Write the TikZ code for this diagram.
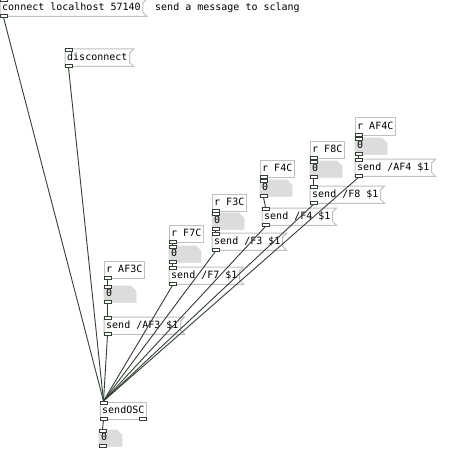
\documentclass[tikz,border=0pt]{standalone}
\usepackage{fontspec}
\newfontfamily\pdfont{DejaVu Sans Mono}
\pgfdeclarelayer{bg}
\pgfsetlayers{bg,main}
\definecolor{pdline}{RGB}{52,64,52}
\definecolor{pdborder}{RGB}{192,192,192}
\definecolor{pdnum}{RGB}{220,220,220}
\tikzset{
  pdbox/.style={font=\pdfont\fontsize{10pt}{12pt}\selectfont, anchor=north west,
    inner xsep=2pt, inner ysep=0pt, minimum height=17pt, text height=7.5pt, text depth=2.5pt},
  pdnumbox/.style={pdbox, minimum height=16pt},
  pdoutline/.style={draw=pdborder, line width=1pt, fill=white},
  pdnumfill/.style={fill=pdnum, draw=pdnum, line width=0.6pt},
  pdport/.style={draw=pdline, fill=white, line width=0.8pt},
  wire/.style={draw=pdline, line width=0.9pt},
}
\newcommand\pdmsgshape[1]{\begin{pgfonlayer}{bg}\draw[pdoutline] (#1.north west) -- ([xshift=4pt]#1.north east) -- ([yshift=-4pt]#1.north east) -- ([yshift=4pt]#1.south east) -- ([xshift=4pt]#1.south east) -- (#1.south west) -- cycle;\end{pgfonlayer}}
\newcommand\pdobjshape[1]{\begin{pgfonlayer}{bg}\draw[pdoutline] (#1.north west) rectangle (#1.south east);\end{pgfonlayer}}
% #1 node, #2 total width
\newcommand\pdnumshape[2]{\begin{pgfonlayer}{bg}\draw[pdnumfill] (#1.north west) -- ([xshift=#2-5pt]#1.north west) -- ([xshift=#2,yshift=-5pt]#1.north west) -- ([xshift=#2]#1.south west) -- (#1.south west) -- cycle;\end{pgfonlayer}}
\newcommand\pdinlet[1]{\draw[pdport] ([yshift=1pt]#1.north west) rectangle ([xshift=7pt,yshift=-2pt]#1.north west);}
\newcommand\pdoutlet[1]{\draw[pdport] ([yshift=2pt]#1.south west) rectangle ([xshift=7pt,yshift=-1pt]#1.south west);}
\newcommand\pdoutletR[1]{\draw[pdport] ([xshift=-7pt,yshift=2pt]#1.south east) rectangle ([yshift=-1pt]#1.south east);}
\newcommand\pdwire[2]{\draw[wire] ([xshift=3.5pt,yshift=-1pt]#1.south west) -- ([xshift=3.5pt,yshift=1pt]#2.north west);}
\begin{document}
\begin{tikzpicture}[x=1pt,y=-1pt]
\begin{pgfonlayer}{bg}
\fill[white] (0,0) rectangle (463,468);
\end{pgfonlayer}
\useasboundingbox (0,0) rectangle (463,468);
% boxes
\node[pdbox] (c) at (0,-1) {connect localhost 57140}; \pdmsgshape{c}
\node[pdbox] (cm) at (153,-1) {send a message to sclang};
\node[pdbox] (d) at (65,49) {disconnect}; \pdmsgshape{d}
% AF3C
\node[pdbox] (ra) at (104,261) {r AF3C}; \pdobjshape{ra}
\node[pdnumbox] (na) at (104,286) {0}; \pdnumshape{na}{32pt}
\node[pdbox] (sa) at (104,317) {send /AF3 \$1}; \pdmsgshape{sa}
% F7C
\node[pdbox] (rb) at (169,225) {r F7C}; \pdobjshape{rb}
\node[pdnumbox] (nb) at (169,246) {0}; \pdnumshape{nb}{32pt}
\node[pdbox] (sb) at (169,267) {send /F7 \$1}; \pdmsgshape{sb}
% F3C
\node[pdbox] (rc) at (212,194) {r F3C}; \pdobjshape{rc}
\node[pdnumbox] (nc) at (212,213) {0}; \pdnumshape{nc}{32pt}
\node[pdbox] (sc) at (212,233) {send /F3 \$1}; \pdmsgshape{sc}
% F4C
\node[pdbox] (rd) at (260,160) {r F4C}; \pdobjshape{rd}
\node[pdnumbox] (nd) at (260,180) {0}; \pdnumshape{nd}{32pt}
\node[pdbox] (sd) at (262,208) {send /F4 \$1}; \pdmsgshape{sd}
% F8C
\node[pdbox] (re) at (310,141) {r F8C}; \pdobjshape{re}
\node[pdnumbox] (ne) at (310,161) {0}; \pdnumshape{ne}{32pt}
\node[pdbox] (se) at (310,186) {send /F8 \$1}; \pdmsgshape{se}
% AF4C
\node[pdbox] (rf) at (355,118) {r AF4C}; \pdobjshape{rf}
\node[pdnumbox] (nf) at (355,138) {0}; \pdnumshape{nf}{32pt}
\node[pdbox] (sf) at (355,159) {send /AF4 \$1}; \pdmsgshape{sf}
% sendOSC
\node[pdbox] (osc) at (100,402) {sendOSC}; \pdobjshape{osc}
\node[pdnumbox] (no) at (99,430) {0}; \pdnumshape{no}{23pt}
% wires
\pdwire{c}{osc}
\pdwire{d}{osc}
\pdwire{ra}{na} \pdwire{na}{sa} \pdwire{sa}{osc}
\pdwire{rb}{nb} \pdwire{nb}{sb} \pdwire{sb}{osc}
\pdwire{rc}{nc} \pdwire{nc}{sc} \pdwire{sc}{osc}
\pdwire{rd}{nd} \pdwire{nd}{sd} \pdwire{sd}{osc}
\pdwire{re}{ne} \pdwire{ne}{se} \pdwire{se}{osc}
\pdwire{rf}{nf} \pdwire{nf}{sf} \pdwire{sf}{osc}
\pdwire{osc}{no}
% ports
\pdinlet{c} \pdoutlet{c}
\pdinlet{d} \pdoutlet{d}
\foreach \g in {a,b,c,d,e,f}{
  \pdoutlet{r\g}
  \pdinlet{n\g} \pdoutlet{n\g}
  \pdinlet{s\g} \pdoutlet{s\g}
}
\pdinlet{osc} \pdoutlet{osc} \pdoutletR{osc}
\pdinlet{no} \pdoutlet{no}
\end{tikzpicture}
\end{document}
